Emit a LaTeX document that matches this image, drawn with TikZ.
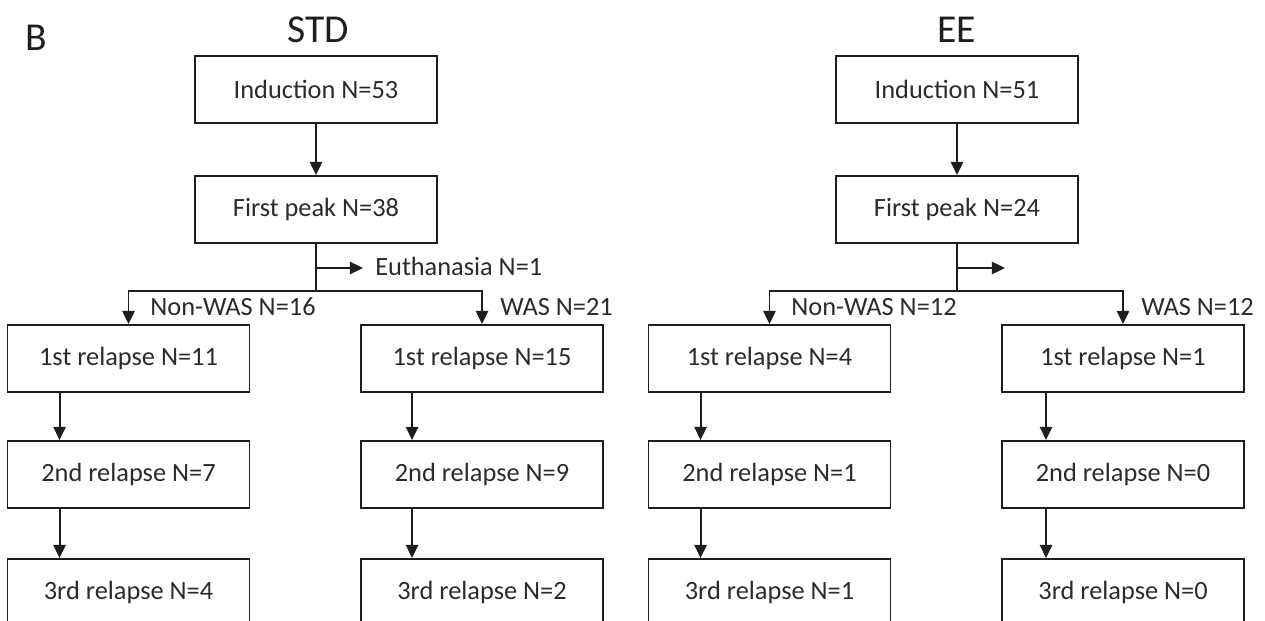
\documentclass[tikz,border=0pt]{standalone}
\usepackage{fontspec}
\setmainfont{Carlito}
\usetikzlibrary{arrows.meta}
\definecolor{Ink}{HTML}{1E1E1E}
\definecolor{TxtGray}{HTML}{2B2B2B}

\begin{document}
\begin{tikzpicture}[
  box/.style={rectangle,draw=Ink,line width=1.1pt,minimum width=4.84cm,
    minimum height=1.34cm,inner sep=0pt,text=TxtGray,
    font=\fontsize{15}{18}\selectfont},
  lbl/.style={anchor=west,inner sep=0pt,text=TxtGray,font=\fontsize{15}{18}\selectfont},
  ttl/.style={inner sep=0pt,text=Ink,font=\fontsize{22.5}{27}\selectfont},
  arr/.style={-{Triangle[length=7.5pt,width=7pt]},line width=1.1pt,draw=Ink}]
  \useasboundingbox (0,0) rectangle (25.3,12.4);
  \clip (0,0) rectangle (25.3,12.4);
  % titles
  \node[ttl] (lab) at (0.72,11.65) {B};
  \node[ttl] (tstd) at (6.36,11.81) {STD};
  \node[ttl] (tee)  at (19.14,11.81) {EE};
  % STD column
  \node[box] (std1) at (6.32,10.61) {Induction N=53};
  \node[box] (std2) at (6.32,8.21)  {First peak N=38};
  \node[box] (sn1) at (2.57,5.23) {1st relapse N=11};
  \node[box] (sn2) at (2.57,2.91) {2nd relapse N=7};
  \node[box] (sn3) at (2.57,0.55) {3rd relapse N=4};
  \node[box] (sw1) at (9.64,5.23) {1st relapse N=15};
  \node[box] (sw2) at (9.64,2.91) {2nd relapse N=9};
  \node[box] (sw3) at (9.64,0.55) {3rd relapse N=2};
  \node[lbl] (seut) at (7.5,7.08) {Euthanasia N=1};
  \node[lbl] (snl) at (3.0,6.26)  {Non-WAS N=16};
  \node[lbl] (swl) at (10.0,6.26) {WAS N=21};
  \coordinate (sb) at (6.32,6.58);
  \draw[arr] (std1) -- (std2);
  \draw[line width=1.1pt,draw=Ink] (std2) -- (sb);
  \draw[arr] (std2.south |- 0,7.04) -- ([xshift=-0.24cm]seut.west |- 0,7.04);
  \draw[arr] (sb) -| (sn1);
  \draw[arr] (sb) -| (sw1);
  \draw[arr] ([xshift=1.06cm]sn1.south west) -- ([xshift=1.06cm]sn2.north west);
  \draw[arr] ([xshift=1.06cm]sn2.south west) -- ([xshift=1.06cm]sn3.north west);
  \draw[arr] ([xshift=1.04cm]sw1.south west) -- ([xshift=1.04cm]sw2.north west);
  \draw[arr] ([xshift=1.04cm]sw2.south west) -- ([xshift=1.04cm]sw3.north west);
  % EE column
  \node[box] (ee1) at (19.14,10.61) {Induction N=51};
  \node[box] (ee2) at (19.14,8.21)  {First peak N=24};
  \node[box] (en1) at (15.39,5.23) {1st relapse N=4};
  \node[box] (en2) at (15.39,2.91) {2nd relapse N=1};
  \node[box] (en3) at (15.39,0.55) {3rd relapse N=1};
  \node[box] (ew1) at (22.46,5.23) {1st relapse N=1};
  \node[box] (ew2) at (22.46,2.91) {2nd relapse N=0};
  \node[box] (ew3) at (22.46,0.55) {3rd relapse N=0};
  \node[lbl] (enl) at (15.82,6.26) {Non-WAS N=12};
  \node[lbl] (ewl) at (22.82,6.26) {WAS N=12};
  \coordinate (eb) at (19.14,6.58);
  \coordinate (eeu) at (20.1,7.04);
  \draw[arr] (ee1) -- (ee2);
  \draw[line width=1.1pt,draw=Ink] (ee2) -- (eb);
  \draw[arr] (ee2.south |- eeu) -- (eeu);
  \draw[arr] (eb) -| (en1);
  \draw[arr] (eb) -| (ew1);
  \draw[arr] ([xshift=1.06cm]en1.south west) -- ([xshift=1.06cm]en2.north west);
  \draw[arr] ([xshift=1.06cm]en2.south west) -- ([xshift=1.06cm]en3.north west);
  \draw[arr] ([xshift=0.9cm]ew1.south west) -- ([xshift=0.9cm]ew2.north west);
  \draw[arr] ([xshift=0.9cm]ew2.south west) -- ([xshift=0.9cm]ew3.north west);
\end{tikzpicture}
\end{document}
